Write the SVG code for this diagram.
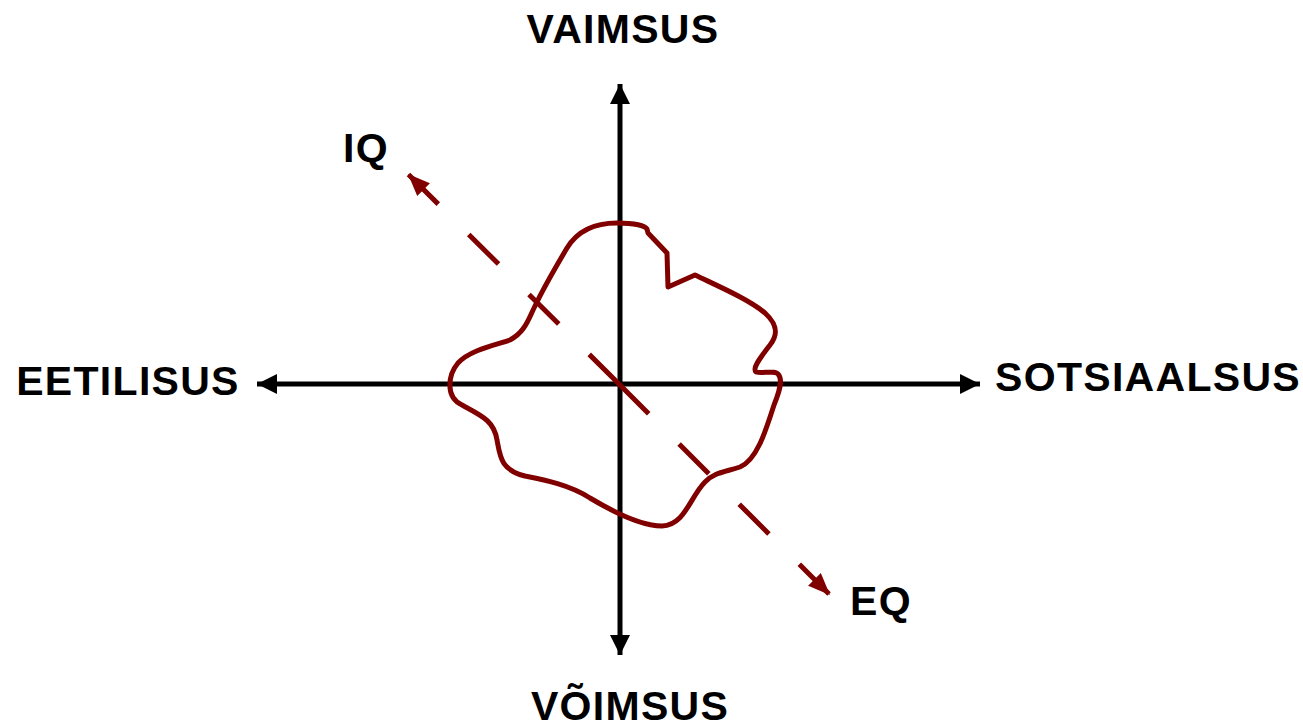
<svg xmlns="http://www.w3.org/2000/svg" width="1303" height="728" viewBox="0 0 1303 728">
<style>
.lbl{font-family:"Liberation Sans",Arial,sans-serif;font-weight:bold;font-size:41px;letter-spacing:1.3px;fill:#000;text-anchor:middle}
.axis{stroke:#000;stroke-width:5;fill:none}
.dash{stroke:#800000;stroke-width:5;fill:none;stroke-dasharray:42 43}
.blob{stroke:#800000;stroke-width:5;fill:none;stroke-linejoin:round}
</style>
<defs>
<marker id="ah" markerUnits="userSpaceOnUse" markerWidth="22" markerHeight="22" refX="20" refY="10" orient="auto">
<path d="M0,0 L20,10 L0,20 Z" fill="#000"/>
</marker>
<marker id="rh" markerUnits="userSpaceOnUse" markerWidth="24" markerHeight="22" refX="22" refY="9" orient="auto">
<path d="M0,0 L22,9 L0,18 Z" fill="#800000"/>
</marker>
</defs>
<rect width="1303" height="728" fill="#fff"/>
<g id="connectors">
<line class="axis" x1="620" y1="384" x2="620" y2="84" marker-end="url(#ah)"/>
<line class="axis" x1="620" y1="384" x2="620" y2="655" marker-end="url(#ah)"/>
<line class="axis" x1="620" y1="384" x2="257" y2="384" marker-end="url(#ah)"/>
<line class="axis" x1="620" y1="384" x2="980" y2="384" marker-end="url(#ah)"/>
<line class="dash" x1="619" y1="384" x2="408" y2="174" marker-end="url(#rh)"/>
<line class="dash" x1="619" y1="384" x2="830" y2="595" marker-end="url(#rh)"/>
</g>
<g id="blob">
<path class="blob" d="M617,223 C635,223 645,226 647,229 L648,233 L667,253 L668,287 L695,275 C720,287 750,300 765,313 C778,325 778,335 770,345 C760,358 752,368 756,372 C762,374 775,370 778,374 C784,380 778,395 774,405 C766,430 757,460 740,467 C725,472 715,472 705,482 C690,497 685,525 662,526 C640,526 610,510 590,498 C570,485 545,480 525,476 C500,470 500,455 497,440 C494,420 480,415 462,405 C445,397 448,375 458,363 C470,350 495,345 510,340 C525,332 528,320 535,306 C545,285 557,265 567,248 C578,230 595,223 617,223 Z"/>
</g>
<g id="vaimsus"><text class="lbl" x="623" y="43">VAIMSUS</text></g>
<g id="voimsus"><text class="lbl" x="630" y="720">VÕIMSUS</text></g>
<g id="eetilisus"><text class="lbl" x="128" y="395">EETILISUS</text></g>
<g id="sotsiaalsus"><text class="lbl" x="1148" y="391">SOTSIAALSUS</text></g>
<g id="iq"><text class="lbl" x="366" y="162">IQ</text></g>
<g id="eq"><text class="lbl" x="881" y="615">EQ</text></g>
</svg>
